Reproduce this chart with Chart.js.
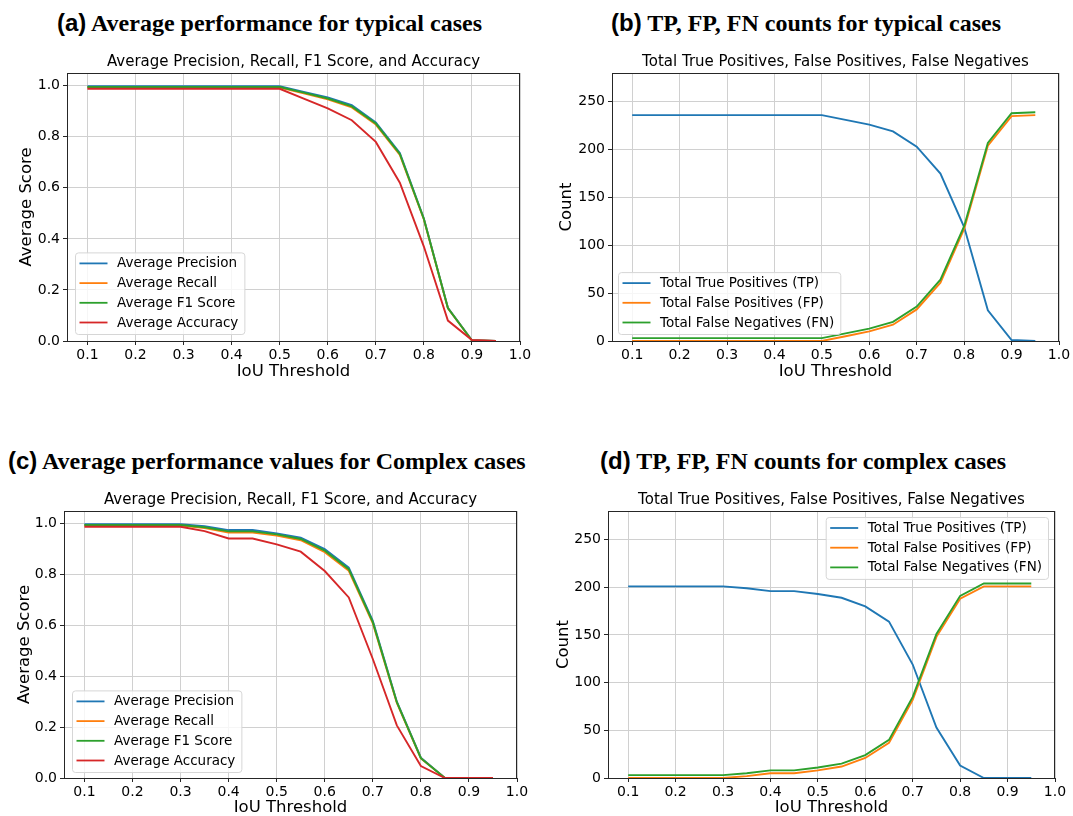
<!DOCTYPE html>
<html><head><meta charset="utf-8">
<script src="https://cdn.jsdelivr.net/npm/chart.js@4.4.1/dist/chart.umd.min.js"></script>
<style>
html,body{margin:0;padding:0;background:#fff;overflow:hidden;width:1073px;height:816px;}
.h{position:absolute;font-family:"Liberation Serif","Times New Roman",serif;font-weight:bold;font-size:24px;line-height:30px;white-space:nowrap;color:#000;}
.h span{font-family:"Liberation Sans",Arial,sans-serif;}
.c{position:absolute;}
</style></head><body>
<div class="h" style="left:57px;top:8px"><span>(a)</span> Average performance for typical cases</div>
<div class="h" style="left:611px;top:8px"><span>(b)</span> TP, FP, FN counts for typical cases</div>
<div class="h" style="left:8px;top:446px"><span>(c)</span> Average performance values for Complex cases</div>
<div class="h" style="left:600px;top:446px"><span>(d)</span> TP, FP, FN counts for complex cases</div>
<div class="c" style="left:0px;top:43px;width:535px;height:343px"><canvas id="ca"></canvas></div>
<div class="c" style="left:540px;top:43px;width:533px;height:343px"><canvas id="cb"></canvas></div>
<div class="c" style="left:0px;top:481px;width:532px;height:342px"><canvas id="cc"></canvas></div>
<div class="c" style="left:540px;top:481px;width:533px;height:342px"><canvas id="cd"></canvas></div>
<script>
// ---- data ----
const thresholds = [0.1,0.15,0.2,0.25,0.3,0.35,0.4,0.45,0.5,0.55,0.6,0.65,0.7,0.75,0.8,0.85,0.9,0.95];
const xTicks = [0.1,0.2,0.3,0.4,0.5,0.6,0.7,0.8,0.9,1.0];
const scoreTicks = [0,0.2,0.4,0.6,0.8,1.0];
const countTicks = [0,50,100,150,200,250];

const scoreLabels = ['Average Precision','Average Recall','Average F1 Score','Average Accuracy'];
const countLabels = ['Total True Positives (TP)','Total False Positives (FP)','Total False Negatives (FN)'];

// (a) typical cases - scores
const typPrecision = [0.998,0.998,0.998,0.998,0.998,0.998,0.998,0.998,0.998,0.976,0.954,0.924,0.856,0.737,0.480,0.130,0.003,0.0];
const typRecall    = [0.993,0.993,0.993,0.993,0.993,0.993,0.993,0.993,0.993,0.970,0.947,0.915,0.848,0.729,0.476,0.128,0.002,0.0];
const typF1        = [0.995,0.995,0.995,0.995,0.995,0.995,0.995,0.995,0.995,0.973,0.950,0.919,0.852,0.733,0.478,0.129,0.002,0.0];
const typAccuracy  = [0.988,0.988,0.988,0.988,0.988,0.988,0.988,0.988,0.988,0.950,0.911,0.865,0.780,0.620,0.370,0.080,0.004,0.0];

// (b) typical cases - counts
const typTP = [236,236,236,236,236,236,236,236,236,231,226,219,203,175,119,32,1,0];
const typFP = [0,0,0,0,0,0,0,0,0,5,10,17,33,61,117,204,235,236];
const typFN = [3,3,3,3,3,3,3,3,3,8,13,20,36,64,120,207,238,239];

// (c) complex cases - scores
const cpxPrecision = [0.998,0.998,0.998,0.998,0.998,0.990,0.975,0.975,0.962,0.945,0.900,0.827,0.618,0.300,0.080,0,0,0];
const cpxRecall    = [0.993,0.993,0.993,0.993,0.993,0.983,0.965,0.965,0.953,0.935,0.888,0.815,0.608,0.295,0.077,0,0,0];
const cpxF1        = [0.995,0.995,0.995,0.995,0.995,0.986,0.970,0.970,0.958,0.940,0.894,0.821,0.613,0.298,0.078,0,0,0];
const cpxAccuracy  = [0.988,0.988,0.988,0.988,0.988,0.971,0.942,0.942,0.919,0.890,0.814,0.710,0.468,0.207,0.047,0,0,0];

// (d) complex cases - counts
const cpxTP = [201,201,201,201,201,199,196,196,193,189,180,164,119,53,13,0,0,0];
const cpxFP = [0,0,0,0,0,2,5,5,8,12,21,37,82,148,188,201,201,201];
const cpxFN = [3,3,3,3,3,5,8,8,11,15,24,40,85,151,191,204,204,204];

const colors = ['#1f77b4','#ff7f0e','#2ca02c','#d62728'];
const FONT = '"DejaVu Sans", Verdana, sans-serif';

// ---- plugins ----
const framePlugin = {
  id:'frame',
  afterDatasetsDraw(chart){
    const {ctx, chartArea:a} = chart;
    ctx.save();
    ctx.strokeStyle = '#262626'; ctx.lineWidth = 1;
    ctx.strokeRect(Math.round(a.left)+0.5, Math.round(a.top)+0.5, Math.round(a.right-a.left)-1, Math.round(a.bottom-a.top));
    ctx.restore();
  }
};
const legendPlugin = {
  id:'insideLegend',
  afterDraw(chart, args, o){
    if(!o || !o.corner) return;
    const {ctx, chartArea:a} = chart;
    const ds = chart.data.datasets;
    ctx.save();
    ctx.font = '13.5px ' + FONT;
    const tw = Math.max(...ds.map(d=>ctx.measureText(d.label).width));
    const rowH = 19.7;
    const w = 42 + tw + 6;
    const h = 11 + (ds.length-1)*rowH + 11.5;
    let x, y;
    if(o.corner==='bl'){ x = a.left + o.dx; y = a.bottom - o.dy - h; }
    else { x = a.right - o.dx - w; y = a.top + o.dy; }
    ctx.beginPath();
    if(ctx.roundRect) ctx.roundRect(x+0.5,y+0.5,w,h,3); else ctx.rect(x+0.5,y+0.5,w,h);
    ctx.fillStyle='rgba(255,255,255,0.8)'; ctx.fill();
    ctx.strokeStyle='#d6d6d6'; ctx.lineWidth=1; ctx.stroke();
    ds.forEach((d,i)=>{
      const cy = y + 11 + i*rowH;
      ctx.strokeStyle=d.borderColor; ctx.lineWidth=1.8;
      ctx.beginPath(); ctx.moveTo(x+4.5,cy); ctx.lineTo(x+32.5,cy); ctx.stroke();
      ctx.fillStyle='#000'; ctx.textBaseline='middle'; ctx.textAlign='left';
      ctx.fillText(d.label, x+42, cy+0.5);
    });
    ctx.restore();
  }
};
Chart.register(framePlugin, legendPlugin);

function makeChart(id, cfg){
  const n = cfg.series.length;
  const datasets = cfg.series.map((s,i)=>({
    label: cfg.labels[i],
    data: thresholds.map((t,j)=>({x:t,y:s[j]})),
    borderColor: colors[i], backgroundColor: colors[i],
    borderWidth: 1.9, pointRadius: 0, tension: 0, fill:false,
    order: n - i
  }));
  return new Chart(document.getElementById(id), {
    type:'line',
    data:{datasets},
    options:{
      responsive:true, maintainAspectRatio:false, animation:false,
      layout:{padding:{left:0,right:cfg.padRight,top:0,bottom:0}},
      plugins:{
        legend:{display:false}, tooltip:{enabled:false},
        title:{display:true, fullSize:false, text:cfg.title, color:'#000',
          font:{family:FONT,size:15,weight:'normal',lineHeight:'18px'},
          padding:{top:10,bottom:2}},
        insideLegend: cfg.legend
      },
      scales:{
        x:{type:'linear', min:0.0575, max:1.0,
          afterFit:(s)=>{s.height=45;},
          afterBuildTicks:(s)=>{s.ticks = xTicks.map(v=>({value:v}));},
          ticks:{color:'#000', font:{family:FONT,size:14}, padding:2, maxRotation:0, autoSkip:false,
            callback:(v)=>Number(v).toFixed(1)},
          grid:{color:'#d0d0d0', lineWidth:1, drawTicks:true, tickLength:4, tickColor:'#262626'},
          border:{display:false},
          title:{display:true, text:'IoU Threshold', color:'#000',
            font:{family:FONT,size:16.5,lineHeight:'20px'}, padding:{top:0,bottom:cfg.xTitlePad}}
        },
        y:{type:'linear', min:0, max:cfg.ymax,
          afterFit:(s)=>{s.width=cfg.yWidth;},
          afterBuildTicks:(s)=>{s.ticks = cfg.yTicks.map(v=>({value:v}));},
          ticks:{color:'#000', font:{family:FONT,size:14}, padding:3, autoSkip:false,
            callback:cfg.yFmt},
          grid:{color:'#d0d0d0', lineWidth:1, drawTicks:true, tickLength:4, tickColor:'#262626'},
          border:{display:false},
          title:{display:true, text:cfg.yTitle, color:'#000',
            font:{family:FONT,size:16.5,lineHeight:'20px'}, padding:{top:cfg.yTitlePad,bottom:0}}
        }
      }
    }
  });
}
const fmtScore = (v)=>Number(v).toFixed(1);
const fmtCount = (v)=>String(Math.round(v));

makeChart('ca',{title:'Average Precision, Recall, F1 Score, and Accuracy', labels:scoreLabels,
  series:[typPrecision,typRecall,typF1,typAccuracy], ymax:1.05, yTicks:scoreTicks, yFmt:fmtScore,
  yTitle:'Average Score', yWidth:67, padRight:15, xTitlePad:4, yTitlePad:17,
  legend:{corner:'bl',dx:8,dy:7}});
makeChart('cb',{title:'Total True Positives, False Positives, False Negatives', labels:countLabels,
  series:[typTP,typFP,typFN], ymax:280, yTicks:countTicks, yFmt:fmtCount,
  yTitle:'Count', yWidth:72, padRight:14, xTitlePad:4, yTitlePad:17,
  legend:{corner:'bl',dx:6,dy:7}});
makeChart('cc',{title:'Average Precision, Recall, F1 Score, and Accuracy', labels:scoreLabels,
  series:[cpxPrecision,cpxRecall,cpxF1,cpxAccuracy], ymax:1.05, yTicks:scoreTicks, yFmt:fmtScore,
  yTitle:'Average Score', yWidth:64, padRight:15, xTitlePad:5, yTitlePad:15,
  legend:{corner:'bl',dx:8,dy:6}});
makeChart('cd',{title:'Total True Positives, False Positives, False Negatives', labels:countLabels,
  series:[cpxTP,cpxFP,cpxFN], ymax:280, yTicks:countTicks, yFmt:fmtCount,
  yTitle:'Count', yWidth:68, padRight:18, xTitlePad:5, yTitlePad:14,
  legend:{corner:'tr',dx:7,dy:6}});
</script>
</body></html>
